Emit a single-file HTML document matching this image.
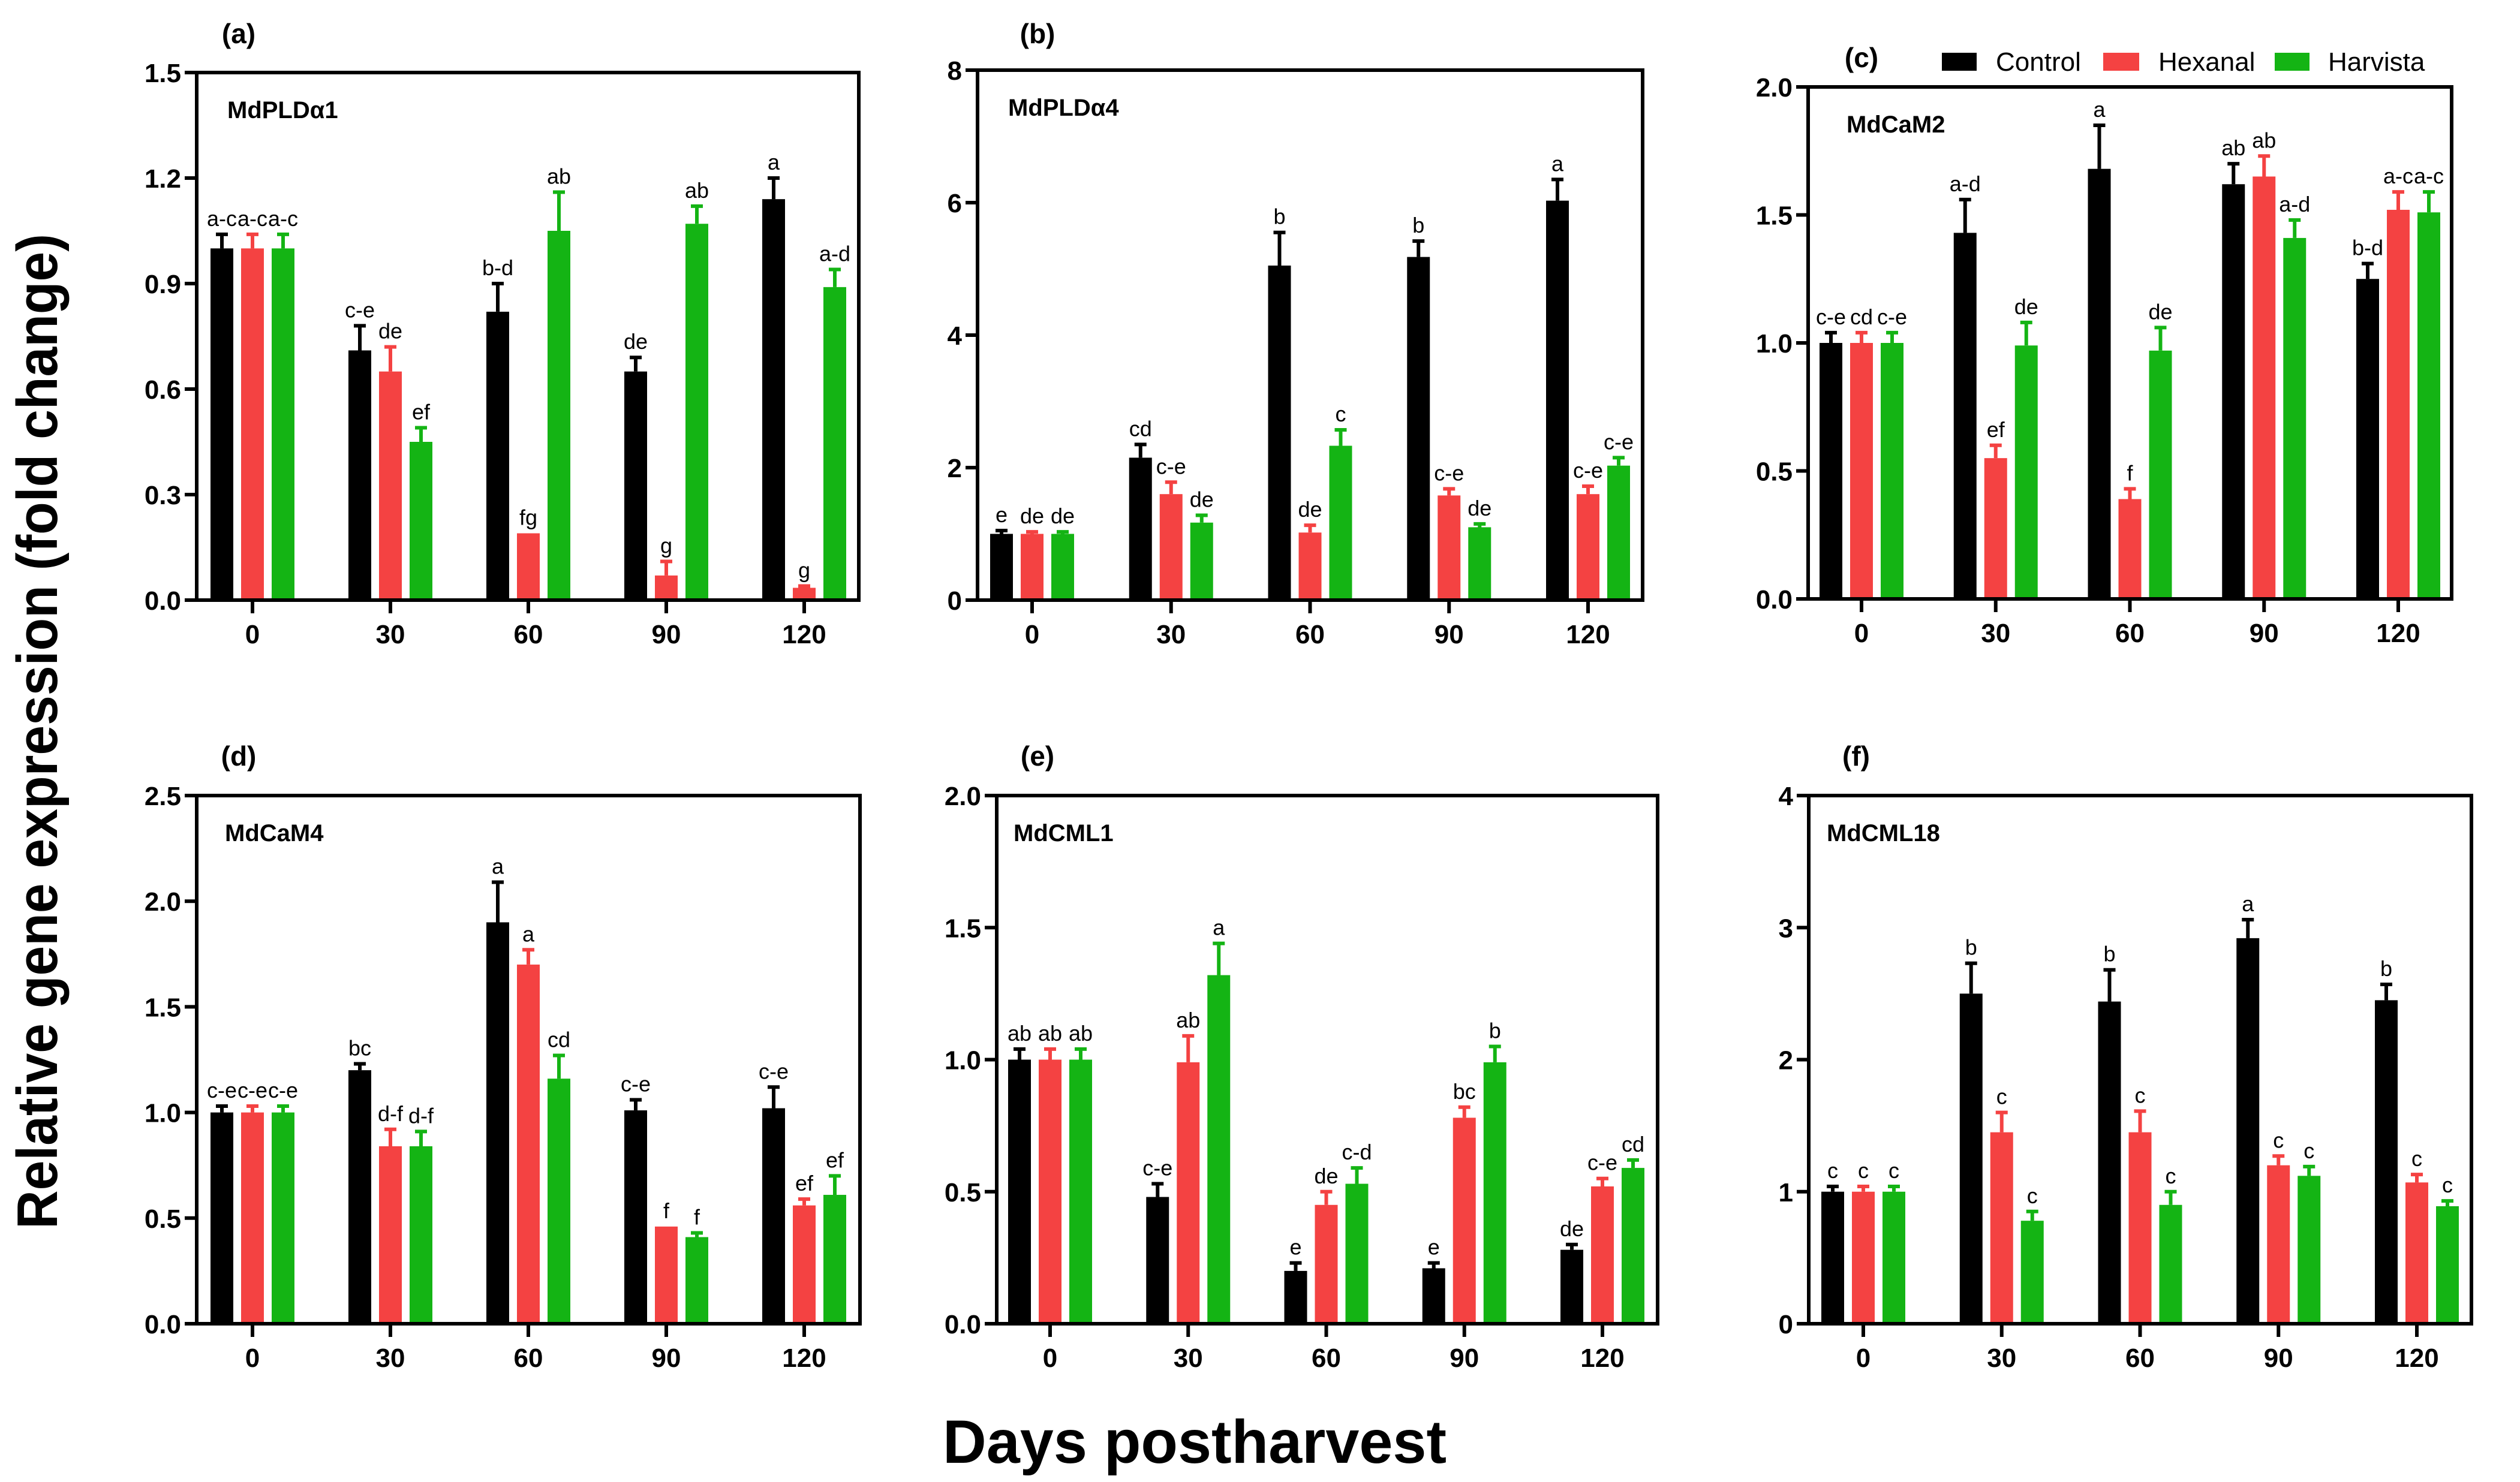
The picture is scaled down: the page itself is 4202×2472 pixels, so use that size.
<!DOCTYPE html>
<html><head><meta charset="utf-8"><style>
html,body{margin:0;padding:0;background:#fff}
svg{display:block}
text{font-family:"Liberation Sans",Arial,sans-serif}
</style></head><body>
<svg id="fig" width="4202" height="2472" viewBox="0 0 4202 2472" xmlns="http://www.w3.org/2000/svg">
<text x="95" y="1220" font-size="96" font-weight="bold" text-anchor="middle" textLength="1660" lengthAdjust="spacingAndGlyphs" transform="rotate(-90 95 1220)">Relative gene expression (fold change)</text>
<text x="1992" y="2440" font-size="102" font-weight="bold" text-anchor="middle" textLength="840" lengthAdjust="spacingAndGlyphs">Days postharvest</text>
<g>
<rect x="3238" y="88" width="58" height="30" fill="#000"/>
<text x="3328" y="118" font-size="44">Control</text>
<rect x="3507" y="88" width="60" height="30" fill="#f44242"/>
<text x="3599" y="118" font-size="44">Hexanal</text>
<rect x="3793" y="88" width="58" height="30" fill="#14b414"/>
<text x="3882" y="118" font-size="44">Harvista</text>
</g>
</svg>
<script>
const categories = ["0","30","60","90","120"];
const seriesNames = ["Control","Hexanal","Harvista"];
const panelTags = ["(a)","(b)","(c)","(d)","(e)","(f)"];
const geneNames = ["MdPLDα1","MdPLDα4","MdCaM2","MdCaM4","MdCML1","MdCML18"];
const yMax = [1.5, 8, 2.0, 2.5, 2.0, 4];
const yTicks = [[0,0.3,0.6,0.9,1.2,1.5],[0,2,4,6,8],[0,0.5,1,1.5,2],[0,0.5,1,1.5,2,2.5],[0,0.5,1,1.5,2],[0,1,2,3,4]];
const yTickLabels = [["0.0","0.3","0.6","0.9","1.2","1.5"],["0","2","4","6","8"],["0.0","0.5","1.0","1.5","2.0"],["0.0","0.5","1.0","1.5","2.0","2.5"],["0.0","0.5","1.0","1.5","2.0"],["0","1","2","3","4"]];
const controlVals = [[1.0,0.71,0.82,0.65,1.14],[1.0,2.15,5.05,5.18,6.03],[1.0,1.43,1.68,1.62,1.25],[1.0,1.2,1.9,1.01,1.02],[1.0,0.48,0.2,0.21,0.28],[1.0,2.5,2.44,2.92,2.45]];
const hexanalVals = [[1.0,0.65,0.19,0.07,0.035],[1.0,1.6,1.02,1.58,1.6],[1.0,0.55,0.39,1.65,1.52],[1.0,0.84,1.7,0.46,0.56],[1.0,0.99,0.45,0.78,0.52],[1.0,1.45,1.45,1.2,1.07]];
const harvistaVals = [[1.0,0.45,1.05,1.07,0.89],[1.0,1.17,2.33,1.1,2.03],[1.0,0.99,0.97,1.41,1.51],[1.0,0.84,1.16,0.41,0.61],[1.0,1.32,0.53,0.99,0.59],[1.0,0.78,0.9,1.12,0.89]];
const controlErr = [[0.04,0.07,0.08,0.04,0.06],[0.05,0.2,0.5,0.24,0.32],[0.04,0.13,0.17,0.08,0.06],[0.03,0.03,0.19,0.05,0.1],[0.04,0.05,0.03,0.02,0.02],[0.04,0.23,0.24,0.14,0.12]];
const hexanalErr = [[0.04,0.07,0.0,0.04,0.005],[0.03,0.18,0.11,0.1,0.12],[0.04,0.05,0.04,0.08,0.07],[0.03,0.08,0.07,0.0,0.03],[0.04,0.1,0.05,0.04,0.03],[0.04,0.15,0.16,0.07,0.06]];
const harvistaErr = [[0.04,0.04,0.11,0.05,0.05],[0.03,0.11,0.24,0.05,0.12],[0.04,0.09,0.09,0.07,0.08],[0.03,0.07,0.11,0.02,0.09],[0.04,0.12,0.06,0.06,0.03],[0.04,0.07,0.1,0.07,0.04]];
const controlLetters = [["a-c","c-e","b-d","de","a"],["e","cd","b","b","a"],["c-e","a-d","a","ab","b-d"],["c-e","bc","a","c-e","c-e"],["ab","c-e","e","e","de"],["c","b","b","a","b"]];
const hexanalLetters = [["a-c","de","fg","g","g"],["de","c-e","de","c-e","c-e"],["cd","ef","f","ab","a-c"],["c-e","d-f","a","f","ef"],["ab","ab","de","bc","c-e"],["c","c","c","c","c"]];
const harvistaLetters = [["a-c","ef","ab","ab","a-d"],["de","de","c","de","c-e"],["c-e","de","de","a-d","a-c"],["c-e","d-f","cd","f","ef"],["ab","a","c-d","b","cd"],["c","c","c","c","c"]];

const layout = [
 {l:328,r:1432,t:121,b:1001,c0:421,c4:1341,tagX:398,tagY:72,gx:51},
 {l:1630,r:2739,t:117,b:1001,c0:1721,c4:2648,tagX:1730,tagY:72,gx:51},
 {l:3015,r:4088,t:145,b:999,c0:3104,c4:3999,tagX:3104,tagY:112,gx:64},
 {l:328,r:1434,t:1327,b:2208,c0:421,c4:1341,tagX:398,tagY:1277,gx:47},
 {l:1662,r:2764,t:1327,b:2208,c0:1751,c4:2672,tagX:1730,tagY:1277,gx:28},
 {l:3016,r:4121,t:1327,b:2208,c0:3107,c4:4030,tagX:3095,tagY:1277,gx:30}
];
const colors = ["#000000","#f44242","#14b414"];
const NS = "http://www.w3.org/2000/svg";
const svg = document.getElementById("fig");
function mk(tag, attrs, parent){const e=document.createElementNS(NS,tag);for(const k in attrs)e.setAttribute(k,attrs[k]);(parent||svg).appendChild(e);return e;}

for(let p=0;p<6;p++){
  const L = layout[p];
  const g = mk("g",{});
  
  
  const yS = v => L.b - v/yMax[p]*(L.b-L.t);
  const xS = i => L.c0 + i*(L.c4-L.c0)/4;
  const vals=[controlVals[p],hexanalVals[p],harvistaVals[p]];
  const errs=[controlErr[p],hexanalErr[p],harvistaErr[p]];
  const lets=[controlLetters[p],hexanalLetters[p],harvistaLetters[p]];
  const tag = mk("text",{x:L.tagX,y:L.tagY,"font-size":46,"font-weight":"bold","text-anchor":"middle"},g);
  tag.textContent = panelTags[p];
  
  
  const gn = mk("text",{x:L.l+L.gx,y:L.t+76,"font-size":40,"font-weight":"bold"},g);
  gn.textContent = geneNames[p];
  
  
  for(let s=0;s<3;s++){
    for(let i=0;i<5;i++){
      const cx = xS(i) + (s-1)*51;
      const v = vals[s][i], top = v+errs[s][i];
      const bar = mk("rect",{x:cx-19,y:yS(v),width:38,height:L.b-yS(v),fill:colors[s]},g);
      
      
      if(errs[s][i]>0){
        const eb = mk("path",{d:`M${cx} ${yS(v)} V${yS(top)} M${cx-10} ${yS(top)} H${cx+10}`,stroke:colors[s],"stroke-width":6,fill:"none"},g);
        
        
      }
      const lt = mk("text",{x:cx,y:yS(top)-14,"font-size":36,"text-anchor":"middle"},g);
      lt.textContent = lets[s][i];
      
      
    }
  }
  const frame = mk("rect",{x:L.l,y:L.t,width:L.r-L.l,height:L.b-L.t,fill:"none",stroke:"#000","stroke-width":6},g);
  
  
  yTicks[p].forEach((t,k)=>{
    const y=yS(t);
    const tk = mk("line",{x1:L.l-20,x2:L.l,y1:y,y2:y,stroke:"#000","stroke-width":6},g);
    
    
    const tl = mk("text",{x:L.l-26,y:y+16,"font-size":44,"font-weight":"bold","text-anchor":"end"},g);
    tl.textContent = yTickLabels[p][k];
    
    
  });
  categories.forEach((c,i)=>{
    const x=xS(i);
    const tk = mk("line",{x1:x,x2:x,y1:L.b,y2:L.b+22,stroke:"#000","stroke-width":6},g);
    
    
    const tl = mk("text",{x:x,y:L.b+72,"font-size":44,"font-weight":"bold","text-anchor":"middle"},g);
    tl.textContent = c;
    
    
  });
}
</script>
</body></html>
